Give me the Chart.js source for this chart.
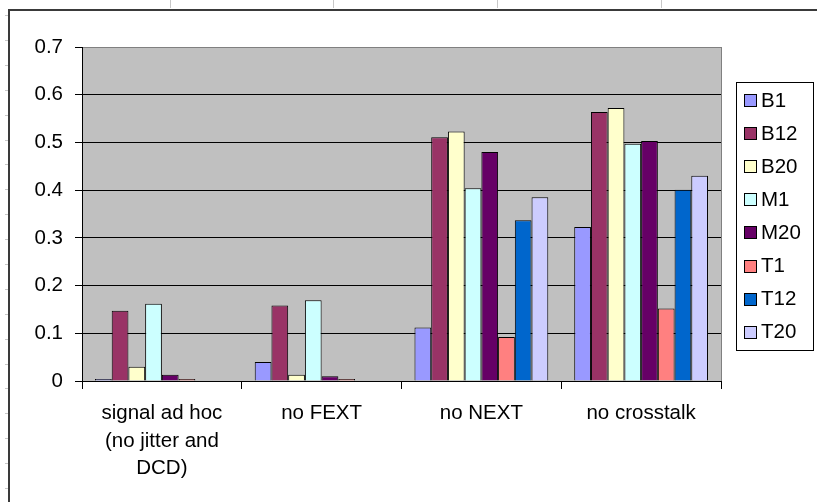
<!DOCTYPE html>
<html>
<head>
<meta charset="utf-8">
<script src="https://cdn.jsdelivr.net/npm/chart.js@4/dist/chart.umd.min.js"></script>
<style>
  html, body { margin: 0; padding: 0; background: #ffffff; }
  #wrap { width: 817px; height: 502px; position: relative; }
</style>
</head>
<body>
<div id="wrap"><canvas id="c" width="817" height="502"></canvas></div>
<script>
// ---- data ----
const categories = [["signal ad hoc", "(no jitter and", "DCD)"], "no FEXT", "no NEXT", "no crosstalk"];
const seriesNames = ["B1", "B12", "B20", "M1", "M20", "T1", "T12", "T20"];
const B1  = [0.002, 0.040, 0.112, 0.323];
const B12 = [0.147, 0.158, 0.511, 0.564];
const B20 = [0.030, 0.013, 0.523, 0.572];
const M1  = [0.162, 0.169, 0.404, 0.497];
const M20 = [0.013, 0.010, 0.480, 0.503];
const T1  = [0.002, 0.002, 0.092, 0.152];
const T12 = [null, null, 0.337, 0.401];
const T20 = [null, null, 0.385, 0.430];
const yTickLabels = ["0", "0.1", "0.2", "0.3", "0.4", "0.5", "0.6", "0.7"];

const seriesValues = [B1, B12, B20, M1, M20, T1, T12, T20];
const seriesColors = ["#9999FF", "#993366", "#FFFFCC", "#CCFFFF", "#660066", "#FF8080", "#0066CC", "#CCCCFF"];

const FONT = "'Liberation Sans', Arial, sans-serif";
const FS = 20.5;

const frame = {
  id: 'frame',
  beforeDraw(chart) {
    const ctx = chart.ctx;
    const a = chart.chartArea;
    ctx.save();
    ctx.fillStyle = '#ffffff';
    ctx.fillRect(0, 0, chart.width, chart.height);
    // spreadsheet cell marks outside frame
    ctx.strokeStyle = '#c8c8c8';
    ctx.lineWidth = 1;
    [170, 333, 497, 661].forEach(x => {
      ctx.beginPath(); ctx.moveTo(x + 0.5, 0); ctx.lineTo(x + 0.5, 8); ctx.stroke();
    });
    for (let y = 15; y < chart.height; y += 24.9) {
      const yy = Math.round(y) + 0.5;
      ctx.beginPath(); ctx.moveTo(5, yy); ctx.lineTo(8, yy); ctx.stroke();
    }
    // outer frame
    ctx.strokeStyle = '#3a3a3a';
    ctx.lineWidth = 2;
    ctx.beginPath();
    ctx.moveTo(9, chart.height + 2);
    ctx.lineTo(9, 10);
    ctx.lineTo(chart.width + 2, 10);
    ctx.stroke();
    // plot area
    ctx.fillStyle = '#C0C0C0';
    ctx.fillRect(a.left, a.top, a.right - a.left, a.bottom - a.top);
    ctx.strokeStyle = '#808080';
    ctx.lineWidth = 1;
    ctx.strokeRect(a.left + 0.5, a.top + 0.5, a.right - a.left, a.bottom - a.top);
    ctx.restore();
  }
};

const legendBox = {
  id: 'legendBox',
  afterDraw(chart) {
    const ctx = chart.ctx;
    ctx.save();
    const x0 = 736, y0 = 82, w = 77, h = 268;
    ctx.fillStyle = '#ffffff';
    ctx.fillRect(x0, y0, w, h);
    ctx.strokeStyle = '#000000';
    ctx.lineWidth = 1;
    ctx.strokeRect(x0 + 0.5, y0 + 0.5, w, h);
    ctx.font = FS + 'px ' + FONT;
    ctx.textBaseline = 'middle';
    ctx.textAlign = 'left';
    chart.data.datasets.forEach((ds, i) => {
      const cy = 100 + i * 33.1;
      const sy = Math.round(cy - 6);
      ctx.fillStyle = ds.backgroundColor;
      ctx.fillRect(744, sy, 12, 12);
      ctx.strokeStyle = '#000000';
      ctx.strokeRect(744.5, sy + 0.5, 12, 12);
      ctx.fillStyle = '#000000';
      ctx.fillText(ds.label, 761, cy + 1);
    });
    ctx.restore();
  }
};

const datasets = seriesNames.map((name, i) => ({
  label: name,
  data: seriesValues[i],
  backgroundColor: seriesColors[i],
  borderColor: '#000000',
  borderWidth: 1,
  borderSkipped: 'bottom',
  minBarLength: 2,
  categoryPercentage: 0.8375,
  barPercentage: 1.0
}));

new Chart(document.getElementById('c'), {
  type: 'bar',
  data: { labels: categories, datasets: datasets },
  plugins: [frame, legendBox],
  options: {
    responsive: false,
    animation: false,
    devicePixelRatio: 1,
    layout: { padding: { left: 0, top: 47, right: 96, bottom: 0 } },
    plugins: {
      legend: { display: false },
      tooltip: { enabled: false },
      title: { display: false }
    },
    scales: {
      x: {
        offset: true,
        afterFit(s) { s.height = 121; },
        grid: {
          display: true,
          offset: true,
          drawOnChartArea: false,
          drawTicks: true,
          tickLength: 8,
          color: '#000000',
          tickColor: '#000000'
        },
        border: { display: true, color: '#000000', width: 1 },
        ticks: {
          color: '#000000',
          font: { family: FONT, size: FS, lineHeight: 1.33 },
          padding: 11,
          maxRotation: 0,
          autoSkip: false
        }
      },
      y: {
        min: 0,
        max: 0.7,
        afterFit(s) { s.width = 82; },
        grid: {
          color: (c) => (c.tick && Math.abs(c.tick.value - 0.7) < 1e-6) ? '#808080' : '#000000',
          tickColor: '#000000',
          tickLength: 7,
          lineWidth: 1
        },
        border: { display: true, color: '#000000', width: 1 },
        ticks: {
          stepSize: 0.1,
          color: '#000000',
          font: { family: FONT, size: FS },
          padding: 12,
          callback: (v, i) => yTickLabels[i]
        }
      }
    }
  }
});
</script>
</body>
</html>
